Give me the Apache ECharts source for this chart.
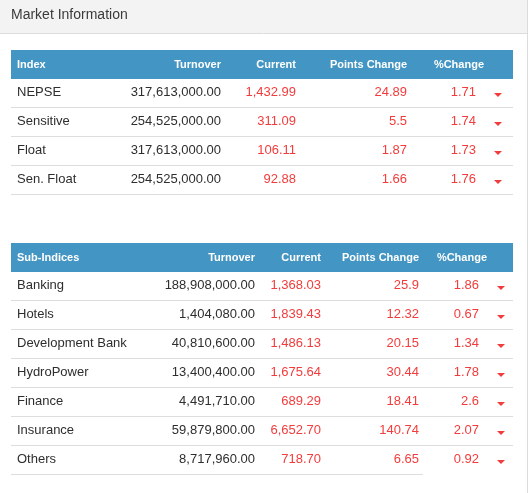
<!DOCTYPE html>
<html>
<head>
<meta charset="utf-8">
<script src="https://cdn.jsdelivr.net/npm/echarts@6/dist/echarts.min.js"></script>
<style>
html,body{margin:0;padding:0;background:#fff;}
#c{width:530px;height:493px;}
</style>
</head>
<body>
<div id="c"></div>
<script>
// ---- data ----
const title = 'Market Information';
const indexHeaders = ['Index', 'Turnover', 'Current', 'Points Change', '%Change'];
const indexNames = ['NEPSE', 'Sensitive', 'Float', 'Sen. Float'];
const indexTurnover = [317613000, 254525000, 317613000, 254525000];
const indexCurrent = [1432.99, 311.09, 106.11, 92.88];
const indexPoints = [24.89, 5.5, 1.87, 1.66];
const indexPct = [1.71, 1.74, 1.73, 1.76];

const subHeaders = ['Sub-Indices', 'Turnover', 'Current', 'Points Change', '%Change'];
const subNames = ['Banking', 'Hotels', 'Development Bank', 'HydroPower', 'Finance', 'Insurance', 'Others'];
const subTurnover = [188908000, 1404080, 40810600, 13400400, 4491710, 59879800, 8717960];
const subCurrent = [1368.03, 1839.43, 1486.13, 1675.64, 689.29, 6652.70, 718.70];
const subPoints = [25.9, 12.32, 20.15, 30.44, 18.41, 140.74, 6.65];
const subPct = [1.86, 0.67, 1.34, 1.78, 2.6, 2.07, 0.92];

// ---- styles / layout ----
const FONT = '"Liberation Sans", Arial, sans-serif';
const HEAD_BG = '#4395c3';
const RED = '#f23c3c';
const DARK = '#2e2e2e';
const LINE = '#dddddd';
const TABLE_W = 502;

function fmt2(v) {
  const parts = v.toFixed(2).split('.');
  parts[0] = parts[0].replace(/\B(?=(\d{3})+(?!\d))/g, ',');
  return parts.join('.');
}

function buildRows(headers, names, turnover, current, points, pct) {
  const rows = [headers.slice()];
  for (let i = 0; i < names.length; i++) {
    rows.push([names[i], fmt2(turnover[i]), fmt2(current[i]), String(points[i]), String(pct[i])]);
  }
  return rows;
}

const table1 = {
  rows: buildRows(indexHeaders, indexNames, indexTurnover, indexCurrent, indexPoints, indexPct),
  // column anchors in table-local px: [nameLeft, turnoverRight, currentRight, pointsRight, pctRight]
  cols: [6, 210, 285, 396, 465],
  headPctRight: 473,
  arrowX: 487,
  lastLineEnd: TABLE_W
};
const table2 = {
  rows: buildRows(subHeaders, subNames, subTurnover, subCurrent, subPoints, subPct),
  cols: [6, 244, 310, 408, 468],
  headPctRight: 476,
  arrowX: 490,
  lastLineEnd: 412
};

function makeRender(tbl) {
  return function (params, api) {
    const r = api.value(1);
    const row = tbl.rows[r];
    const bandH = api.size([0, 1])[1];
    const c = api.coord([0, r]);
    const top = c[1] - bandH / 2;
    const x0 = api.coord([0, r])[0];
    const x1 = api.coord([TABLE_W, r])[0];
    const cy = c[1];
    const children = [];
    const isHead = r === 0;
    if (isHead) {
      children.push({ type: 'rect', shape: { x: x0, y: top, width: x1 - x0, height: bandH }, style: { fill: HEAD_BG } });
    }
    for (let j = 0; j < row.length; j++) {
      let xr = tbl.cols[j];
      if (isHead && j === 4) xr = tbl.headPctRight;
      const px = api.coord([xr, r])[0];
      children.push({
        type: 'text',
        x: px, y: isHead ? cy : cy - 1,
        style: {
          text: row[j],
          fill: isHead ? '#ffffff' : (j <= 1 ? DARK : RED),
          font: isHead ? ('bold 11px ' + FONT) : ('13px ' + FONT),
          align: j === 0 ? 'left' : 'right',
          verticalAlign: 'middle'
        }
      });
    }
    if (!isHead) {
      const ax = api.coord([tbl.arrowX, r])[0];
      children.push({
        type: 'polygon',
        shape: { points: [[ax - 4, cy - 0.5], [ax + 4, cy - 0.5], [ax, cy + 3.5]] },
        style: { fill: RED }
      });
      const last = r === tbl.rows.length - 1;
      const ly = Math.round(top + bandH) - 0.5;
      const lx1 = api.coord([last ? tbl.lastLineEnd : TABLE_W, r])[0];
      children.push({
        type: 'line',
        shape: { x1: x0, y1: ly, x2: lx1, y2: ly },
        style: { stroke: LINE, lineWidth: 1 }
      });
    }
    return { type: 'group', children: children };
  };
}

function rowData(tbl) {
  return tbl.rows.map((_, i) => [0, i]);
}

const chart = echarts.init(document.getElementById('c'), null, { renderer: 'canvas' });
chart.setOption({
  animation: false,
  backgroundColor: '#ffffff',
  graphic: [
    { type: 'rect', shape: { x: 0, y: 0, width: 527, height: 33 }, style: { fill: '#f3f3f3' }, z: 0 },
    { type: 'line', shape: { x1: 0, y1: 33.5, x2: 527, y2: 33.5 }, style: { stroke: '#dcdcdc', lineWidth: 1 } },
    { type: 'line', shape: { x1: 527.5, y1: 0, x2: 527.5, y2: 493 }, style: { stroke: '#dcdcdc', lineWidth: 1 } },
    { type: 'text', x: 11, y: 15, style: { text: title, fill: '#3a3a3a', font: '14px ' + FONT, verticalAlign: 'middle' } }
  ],
  grid: [
    { left: 11, top: 50, width: TABLE_W, height: 29 * table1.rows.length },
    { left: 11, top: 243, width: TABLE_W, height: 29 * table2.rows.length }
  ],
  xAxis: [
    { type: 'value', gridIndex: 0, min: 0, max: TABLE_W, show: false },
    { type: 'value', gridIndex: 1, min: 0, max: TABLE_W, show: false }
  ],
  yAxis: [
    { type: 'category', gridIndex: 0, inverse: true, data: table1.rows.map(r => r[0]), show: false },
    { type: 'category', gridIndex: 1, inverse: true, data: table2.rows.map(r => r[0]), show: false }
  ],
  series: [
    { type: 'custom', xAxisIndex: 0, yAxisIndex: 0, data: rowData(table1), renderItem: makeRender(table1), silent: true, clip: false },
    { type: 'custom', xAxisIndex: 1, yAxisIndex: 1, data: rowData(table2), renderItem: makeRender(table2), silent: true, clip: false }
  ]
});
</script>
</body>
</html>
